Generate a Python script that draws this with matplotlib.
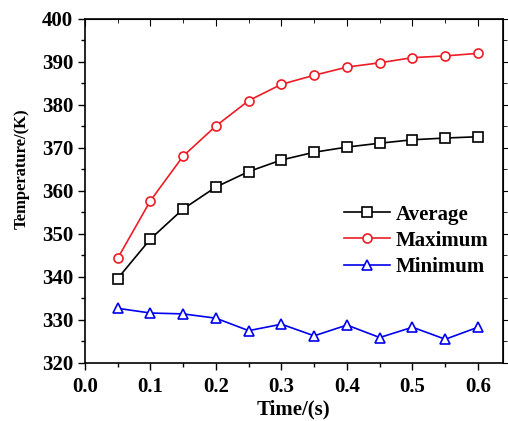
import matplotlib
matplotlib.use("Agg")
import matplotlib.pyplot as plt
from matplotlib.ticker import MultipleLocator

time_s = [0.05, 0.10, 0.15, 0.20, 0.25, 0.30, 0.35, 0.40, 0.45, 0.50, 0.55, 0.60]
avg_temp = [339.6, 348.8, 355.8, 360.9, 364.5, 367.2, 369.0, 370.2, 371.1, 371.9, 372.3, 372.6]
max_temp = [344.3, 357.7, 368.1, 375.1, 381.0, 384.8, 386.9, 388.8, 389.8, 391.0, 391.4, 392.0]
min_temp = [332.7, 331.6, 331.4, 330.4, 327.5, 329.0, 326.3, 328.8, 325.9, 328.3, 325.5, 328.3]

plt.rcParams["font.family"] = ["Liberation Serif", "DejaVu Serif"]
plt.rcParams["font.weight"] = "bold"

fig = plt.figure(figsize=(5.08, 4.21), dpi=100)
ax = fig.add_axes([0.167, 0.138, 0.823, 0.817])

common = dict(lw=1.2, ms=6.5, mfc="white", mew=1.2)
ax.plot(time_s, avg_temp, "-s", color="black", label="Average", **common)
ax.plot(time_s, max_temp, "-o", color="#ee1c25", label="Maximum", **common)
ax.plot(time_s, min_temp, "-^", color="#0000ee", label="Minimum", **common)

ax.set_xlim(0.0, 0.638)
ax.set_ylim(320, 400)
ax.xaxis.set_major_locator(MultipleLocator(0.1))
ax.xaxis.set_minor_locator(MultipleLocator(0.05))
ax.yaxis.set_major_locator(MultipleLocator(10))
ax.yaxis.set_minor_locator(MultipleLocator(5))
ax.xaxis.set_major_formatter(plt.FormatStrFormatter("%.1f"))

ax.tick_params(which="both", direction="out", top=False, right=False,
               labelsize=15, width=1.0)
ax.tick_params(axis="x", pad=5)
ax.tick_params(which="major", length=5)
ax.tick_params(which="minor", length=3)
for s in ax.spines.values():
    s.set_linewidth(1.2)

sec_x = ax.secondary_xaxis("top")
sec_x.xaxis.set_major_locator(MultipleLocator(0.1))
sec_x.xaxis.set_minor_locator(MultipleLocator(0.05))
sec_x.tick_params(which="both", direction="in", labeltop=False)
sec_x.tick_params(which="major", length=5)
sec_x.tick_params(which="minor", length=3)
sec_y = ax.secondary_yaxis("right")
sec_y.yaxis.set_major_locator(MultipleLocator(10))
sec_y.yaxis.set_minor_locator(MultipleLocator(5))
sec_y.tick_params(which="both", direction="out", labelright=False)
sec_y.tick_params(which="major", length=5)
sec_y.tick_params(which="minor", length=3)

ax.set_xlabel("Time/(s)", fontsize=15, fontweight="bold")
ax.xaxis.set_label_coords(0.5, -0.105)
ax.set_ylabel("Temperature/(K)", fontsize=12, fontweight="bold")
ax.yaxis.set_label_coords(-0.132, 0.564)

ax.legend(loc="upper left", bbox_to_anchor=(0.575, 0.515), frameon=False,
          handlelength=2.2, handletextpad=0.3, labelspacing=0.3,
          prop={"weight": "bold", "size": 15})

fig.savefig("out.png", dpi=100)
